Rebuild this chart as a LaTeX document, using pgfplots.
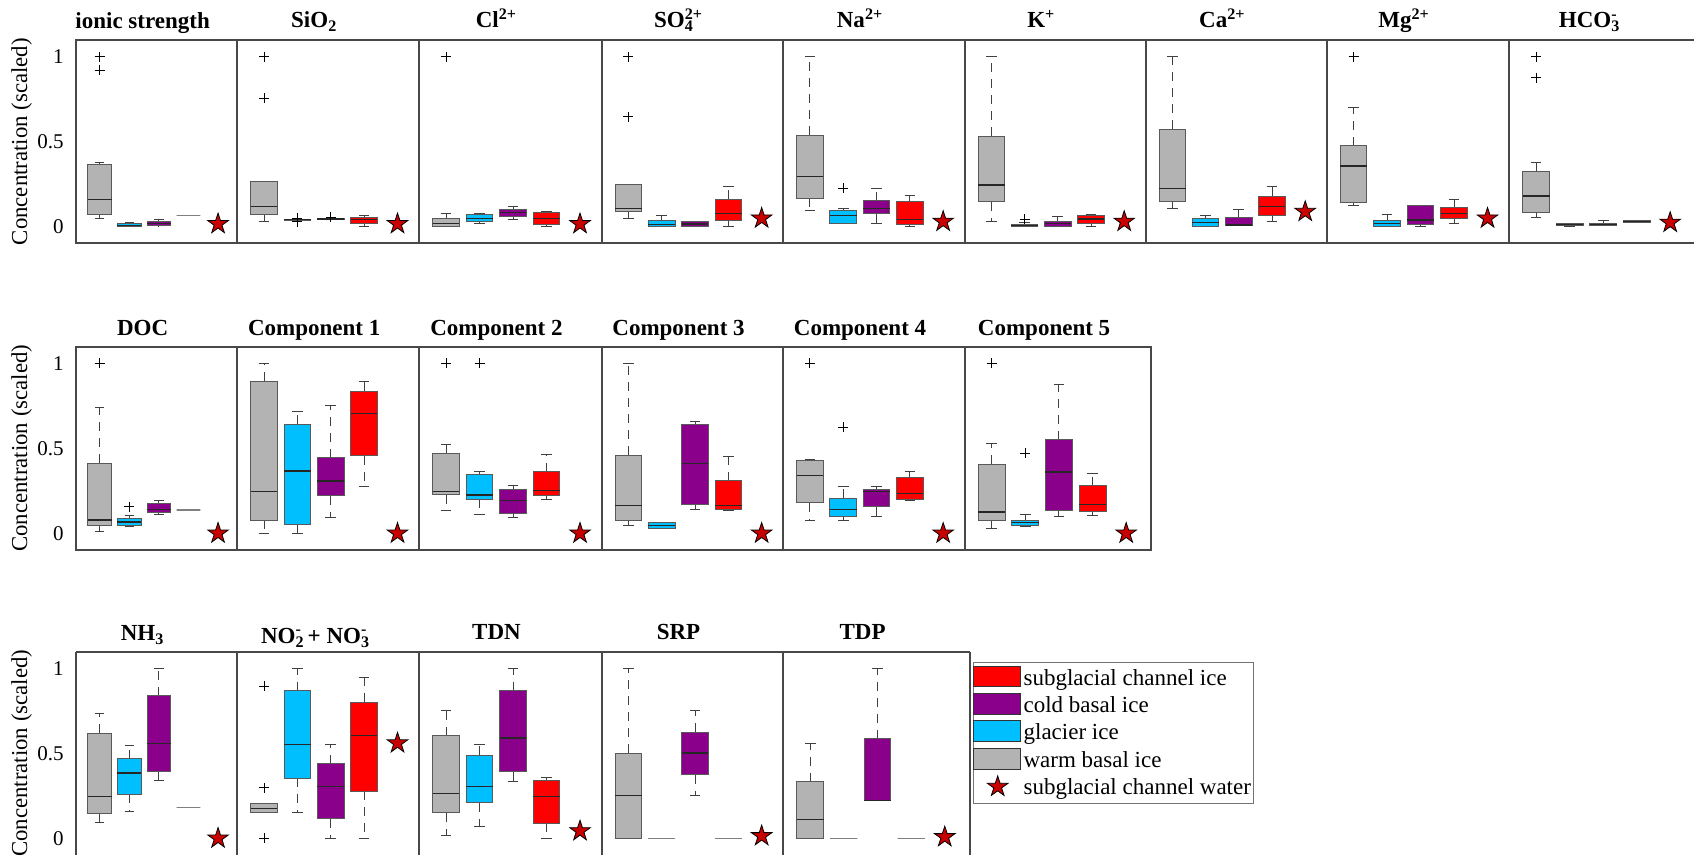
\documentclass[border=0pt]{standalone}
\usepackage{fontspec}
\setmainfont{Liberation Serif}
\usepackage{pgfplots}
\pgfplotsset{compat=1.18}
\usepgfplotslibrary{statistics}
\definecolor{cgray}{RGB}{179,179,179}
\definecolor{cblue}{RGB}{0,191,255}
\definecolor{cpurple}{RGB}{139,0,139}
\definecolor{cred}{RGB}{255,0,0}
\definecolor{cstar}{RGB}{200,0,0}
\definecolor{frame}{RGB}{72,72,72}
\pgfdeclareplotmark{fstar}{%
  \pgfpathmoveto{\pgfpointpolar{90}{\pgfplotmarksize}}%
  \pgfpathlineto{\pgfpointpolar{126}{0.382\pgfplotmarksize}}%
  \pgfpathlineto{\pgfpointpolar{162}{\pgfplotmarksize}}%
  \pgfpathlineto{\pgfpointpolar{198}{0.382\pgfplotmarksize}}%
  \pgfpathlineto{\pgfpointpolar{234}{\pgfplotmarksize}}%
  \pgfpathlineto{\pgfpointpolar{270}{0.382\pgfplotmarksize}}%
  \pgfpathlineto{\pgfpointpolar{306}{\pgfplotmarksize}}%
  \pgfpathlineto{\pgfpointpolar{342}{0.382\pgfplotmarksize}}%
  \pgfpathlineto{\pgfpointpolar{18}{\pgfplotmarksize}}%
  \pgfpathlineto{\pgfpointpolar{54}{0.382\pgfplotmarksize}}%
  \pgfpathclose
  \pgfusepathqfillstroke
}
\pgfplotsset{
  every axis title shift=0pt,
  boxplot/draw direction=y,
  boxplot/draw/lower whisker/.code={%
    \draw[/pgfplots/boxplot/every whisker/.try, dash pattern=on 4.5pt off 3.5pt]
      (boxplot cs:\pgfplotsboxplotvalue{lower quartile}) --
      (boxplot cs:\pgfplotsboxplotvalue{lower whisker});
    \draw[/pgfplots/boxplot/every whisker/.try, solid]
      (boxplot whisker cs:\pgfplotsboxplotvalue{lower whisker},0) --
      (boxplot whisker cs:\pgfplotsboxplotvalue{lower whisker},1);
  },
  boxplot/draw/upper whisker/.code={%
    \draw[/pgfplots/boxplot/every whisker/.try, dash pattern=on 4.5pt off 3.5pt]
      (boxplot cs:\pgfplotsboxplotvalue{upper quartile}) --
      (boxplot cs:\pgfplotsboxplotvalue{upper whisker});
    \draw[/pgfplots/boxplot/every whisker/.try, solid]
      (boxplot whisker cs:\pgfplotsboxplotvalue{upper whisker},0) --
      (boxplot whisker cs:\pgfplotsboxplotvalue{upper whisker},1);
  },
  bp/.style={
    black, mark=+, mark size=2.5pt, mark options={solid, black, line width=0.5pt},
    boxplot/draw direction=y,
    boxplot/box extend=0.8, boxplot/whisker extend=0.32,
    boxplot/every box/.style={draw=black!65, fill=#1, line width=0.5pt},
    boxplot/every median/.style={draw=black!85, line width=0.6pt},
    boxplot/every whisker/.style={draw=black!75, line width=0.5pt},
  },
  panel/.style={
    scale only axis, anchor=north west, height=101.65pt,
    xmin=0.2, xmax=5.65, ymin=-0.098, ymax=1.098,
    xtick=\empty, ytick=\empty,
    axis line style={draw=frame, line width=1pt},
    major tick length=0pt,
    tick label style={font=\fontsize{10.5}{12}\selectfont},
    yticklabel style={xshift=-2.6pt},
    title style={at={(0.5,1)}, anchor=base, xshift=-7pt, inner sep=0pt, font=\bfseries\fontsize{11.5}{13}\selectfont},
    /pgf/number format/assume math mode=true,
    clip=false,
  },
  tb/.style={title style={yshift=#1}},
  first/.style={ytick={0,0.5,1}, ylabel={Concentration (scaled)},
    ylabel style={at={(axis description cs:-0.337,0.5)}, anchor=center, font=\fontsize{11.4}{13}\selectfont}},
  last/.style={xmax=5.75},
  bottomrow/.style={axis x line*=top, axis y line*=box},
}
\newcommand\B[7]{\addplot[forget plot, bp=#2, boxplot prepared={draw position=#1, lower whisker=#3, lower quartile=#4, median=#5, upper quartile=#6, upper whisker=#7}] coordinates {};}
\newcommand\BO[8]{\addplot[forget plot, bp=#2, boxplot prepared={draw position=#1, lower whisker=#3, lower quartile=#4, median=#5, upper quartile=#6, upper whisker=#7}] table[row sep=\\, y index=0] {v\\ #8};}
\newcommand\BL[2]{\addplot[forget plot, bp=white, boxplot/every box/.style={draw=gray, line width=0.7pt}, boxplot/every median/.style={draw=gray, line width=0.7pt}, boxplot/every whisker/.style={draw=none}, boxplot prepared={draw position=#1, lower whisker=#2, lower quartile=#2, median=#2, upper quartile=#2, upper whisker=#2}] coordinates {};}
\newcommand\ST[1]{\addplot[forget plot, only marks, mark=fstar, mark size=5.4pt, mark options={draw=black, fill=cstar, line width=0.4pt}] coordinates {(5,#1)};}
\newcommand\SW[1]{\addlegendimage{legend image code/.code={\draw[fill=#1,draw=black!80,line width=0.5pt] (0pt,-4.2pt) rectangle (23.5pt,6.2pt);}}}
\begin{document}
\begin{tikzpicture}
\useasboundingbox (0,0) rectangle (847pt,-428pt);
% ---------------- Row 1 ----------------
\begin{axis}[panel, first, at={(38pt,-20pt)}, width=80.65pt, title={ionic strength}, tb=5.9pt]
\BO{1}{cgray}{0.045}{0.069}{0.16}{0.367}{0.38}{1\\0.92\\}
\B{2}{cblue}{0}{0.001}{0.008}{0.018}{0.025}
\B{3}{cpurple}{0.005}{0.006}{0.018}{0.03}{0.04}
\BL{4}{0.065}
\ST{0.016}
\end{axis}
\begin{axis}[panel, at={(118.65pt,-20pt)}, width=90.95pt, title={SiO\textsubscript{2}}, tb=6pt]
\BO{1}{cgray}{0.033}{0.069}{0.12}{0.265}{0.265}{1\\0.755\\}
\BO{2}{cblue}{0.038}{0.038}{0.04}{0.042}{0.042}{0.05\\0.03\\}
\BO{3}{cpurple}{0.042}{0.042}{0.045}{0.048}{0.048}{0.055\\}
\B{4}{cred}{0}{0.02}{0.04}{0.055}{0.063}
\ST{0.016}
\end{axis}
\begin{axis}[panel, at={(209.6pt,-20pt)}, width=91.3pt, title={Cl\textsuperscript{2+}}, tb=6pt]
\BO{1}{cgray}{0}{0}{0.02}{0.045}{0.078}{1\\}
\B{2}{cblue}{0.02}{0.03}{0.049}{0.069}{0.075}
\B{3}{cpurple}{0.04}{0.059}{0.084}{0.098}{0.118}
\B{4}{cred}{0}{0.014}{0.049}{0.084}{0.088}
\ST{0.016}
\end{axis}
\begin{axis}[panel, at={(300.9pt,-20pt)}, width=90.75pt, title={SO\rlap{\textsubscript{4}}\textsuperscript{2+}}, tb=6pt]
\BO{1}{cgray}{0.045}{0.088}{0.108}{0.245}{0.245}{1\\0.647\\}
\B{2}{cblue}{0}{0}{0.012}{0.035}{0.065}
\B{3}{cpurple}{0}{0}{0.016}{0.03}{0.033}
\B{4}{cred}{0}{0.035}{0.078}{0.161}{0.239}
\ST{0.049}
\end{axis}
\begin{axis}[panel, at={(391.65pt,-20pt)}, width=90.75pt, title={Na\textsuperscript{2+}}, tb=6pt]
\B{1}{cgray}{0.094}{0.167}{0.294}{0.539}{1}
\BO{2}{cblue}{0.02}{0.02}{0.065}{0.094}{0.108}{0.225\\}
\B{3}{cpurple}{0.02}{0.075}{0.108}{0.153}{0.222}
\B{4}{cred}{0}{0.01}{0.04}{0.147}{0.186}
\ST{0.03}
\end{axis}
\begin{axis}[panel, at={(482.4pt,-20pt)}, width=90.5pt, title={K\textsuperscript{+}}, tb=6pt]
\B{1}{cgray}{0.03}{0.147}{0.245}{0.533}{1}
\BO{2}{cblue}{0}{0}{0.006}{0.014}{0.022}{0.043\\}
\B{3}{cpurple}{0}{0}{0.02}{0.033}{0.059}
\B{4}{cred}{0}{0.016}{0.045}{0.065}{0.073}
\ST{0.03}
\end{axis}
\begin{axis}[panel, at={(572.9pt,-20pt)}, width=90.5pt, title={Ca\textsuperscript{2+}}, tb=6pt]
\B{1}{cgray}{0.104}{0.147}{0.225}{0.573}{1}
\B{2}{cblue}{0}{0}{0.025}{0.045}{0.065}
\B{3}{cpurple}{0.004}{0.004}{0.01}{0.053}{0.098}
\B{4}{cred}{0.033}{0.065}{0.118}{0.18}{0.235}
\ST{0.088}
\end{axis}
\begin{axis}[panel, at={(663.4pt,-20pt)}, width=91.25pt, title={Mg\textsuperscript{2+}}, tb=6pt]
\BO{1}{cgray}{0.124}{0.143}{0.357}{0.475}{0.7}{1\\}
\B{2}{cblue}{0}{0}{0.02}{0.039}{0.069}
\B{3}{cpurple}{0}{0.01}{0.039}{0.122}{0.122}
\B{4}{cred}{0.02}{0.045}{0.075}{0.114}{0.161}
\ST{0.049}
\end{axis}
\begin{axis}[panel, last, at={(754.65pt,-20pt)}, width=93pt, title={HCO\rlap{\textsubscript{3}}\textsuperscript{-}}, tb=6pt]
\BO{1}{cgray}{0.053}{0.084}{0.18}{0.322}{0.378}{1\\0.876\\}
\B{2}{cblue}{0.002}{0.004}{0.012}{0.02}{0.02}
\B{3}{cpurple}{0.004}{0.004}{0.012}{0.02}{0.039}
\B{4}{cred}{0.024}{0.024}{0.031}{0.039}{0.039}
\ST{0.024}
\end{axis}
% ---------------- Row 2 ----------------
\begin{axis}[panel, first, at={(38pt,-173.35pt)}, width=80.65pt, title={DOC}, tb=5.8pt]
\BO{1}{cgray}{0.008}{0.047}{0.079}{0.413}{0.74}{1\\}
\BO{2}{cblue}{0.039}{0.047}{0.067}{0.086}{0.106}{0.157\\}
\B{3}{cpurple}{0.108}{0.122}{0.141}{0.177}{0.196}
\BL{4}{0.138}
\ST{0}
\end{axis}
\begin{axis}[panel, at={(118.65pt,-173.35pt)}, width=90.95pt, title={Component 1}, tb=5.8pt]
\B{1}{cgray}{0}{0.077}{0.246}{0.894}{1}
\B{2}{cblue}{0}{0.053}{0.367}{0.642}{0.717}
\B{3}{cpurple}{0.096}{0.22}{0.308}{0.446}{0.754}
\B{4}{cred}{0.273}{0.456}{0.707}{0.835}{0.894}
\ST{0}
\end{axis}
\begin{axis}[panel, at={(209.6pt,-173.35pt)}, width=91.3pt, title={Component 2}, tb=5.8pt]
\BO{1}{cgray}{0.136}{0.226}{0.246}{0.472}{0.525}{1\\}
\BO{2}{cblue}{0.112}{0.2}{0.226}{0.348}{0.361}{1\\}
\B{3}{cpurple}{0.092}{0.118}{0.194}{0.259}{0.279}
\B{4}{cred}{0.2}{0.22}{0.253}{0.361}{0.466}
\ST{0}
\end{axis}
\begin{axis}[panel, at={(300.9pt,-173.35pt)}, width=90.75pt, title={Component 3}, tb=5.8pt]
\B{1}{cgray}{0.047}{0.077}{0.165}{0.46}{1}
\B{2}{cblue}{0.029}{0.029}{0.047}{0.063}{0.063}
\B{3}{cpurple}{0.138}{0.171}{0.413}{0.639}{0.658}
\B{4}{cred}{0.132}{0.141}{0.165}{0.308}{0.452}
\ST{0}
\end{axis}
\begin{axis}[panel, at={(391.65pt,-173.35pt)}, width=90.75pt, title={Component 4}, tb=5.8pt]
\BO{1}{cgray}{0.073}{0.181}{0.338}{0.426}{0.432}{1\\}
\BO{2}{cblue}{0.073}{0.102}{0.138}{0.206}{0.273}{0.623\\}
\B{3}{cpurple}{0.098}{0.155}{0.246}{0.259}{0.273}
\B{4}{cred}{0.195}{0.2}{0.236}{0.328}{0.361}
\ST{0}
\end{axis}
\begin{axis}[panel, last, at={(482.4pt,-173.35pt)}, width=93.3pt, title={Component 5}, tb=5.8pt]
\BO{1}{cgray}{0.028}{0.077}{0.126}{0.407}{0.528}{1\\}
\BO{2}{cblue}{0.039}{0.049}{0.063}{0.077}{0.112}{0.47\\}
\B{3}{cpurple}{0.098}{0.136}{0.361}{0.55}{0.878}
\B{4}{cred}{0.106}{0.126}{0.171}{0.279}{0.354}
\ST{0}
\end{axis}
% ---------------- Row 3 ----------------
\begin{axis}[panel, first, bottomrow, at={(38pt,-325.85pt)}, width=80.65pt, title={NH\textsubscript{3}}, tb=5.5pt]
\B{1}{cgray}{0.092}{0.145}{0.244}{0.619}{0.736}
\B{2}{cblue}{0.16}{0.258}{0.385}{0.469}{0.545}
\B{3}{cpurple}{0.342}{0.391}{0.557}{0.838}{1}
\BL{4}{0.18}
\ST{0}
\end{axis}
\begin{axis}[panel, bottomrow, at={(118.65pt,-325.85pt)}, width=90.95pt, title={NO\rlap{\textsubscript{2}}\textsuperscript{-} + NO\rlap{\textsubscript{3}}\textsuperscript{-}}, tb=4.1pt]
\BO{1}{cgray}{0.15}{0.15}{0.174}{0.203}{0.203}{0.896\\0.297\\0\\}
\B{2}{cblue}{0.15}{0.355}{0.551}{0.869}{1}
\B{3}{cpurple}{0}{0.115}{0.303}{0.4375}{0.551}
\B{4}{cred}{0}{0.277}{0.604}{0.80}{0.947}
\ST{0.56}
\end{axis}
\begin{axis}[panel, bottomrow, at={(209.6pt,-325.85pt)}, width=91.3pt, title={TDN}, tb=6pt]
\B{1}{cgray}{0.014}{0.15}{0.264}{0.604}{0.752}
\B{2}{cblue}{0.072}{0.209}{0.303}{0.488}{0.551}
\B{3}{cpurple}{0.332}{0.391}{0.59}{0.867}{1}
\B{4}{cred}{0}{0.088}{0.244}{0.34}{0.359}
\ST{0.043}
\end{axis}
\begin{axis}[panel, bottomrow, at={(300.9pt,-325.85pt)}, width=90.75pt, title={SRP}, tb=6pt]
\B{1}{cgray}{0}{0}{0.254}{0.502}{1}
\BL{2}{0}
\B{3}{cpurple}{0.254}{0.375}{0.502}{0.623}{0.752}
\BL{4}{0}
\ST{0.014}
\end{axis}
\begin{axis}[panel, last, bottomrow, at={(391.65pt,-325.85pt)}, width=93.35pt, title={TDP}, tb=6pt,
  legend style={at={(1.0145,0.948)}, anchor=north west, draw=black!55, line width=0.5pt, fill=white,
    inner xsep=0pt, inner ysep=1pt, font=\fontsize{11.5}{13}\selectfont, row sep=0pt,
    nodes={inner xsep=1.2pt, inner ysep=0.2pt, text height=10pt, text depth=3.3pt}},
  legend cell align=left]
\SW{cred}
\addlegendentry{subglacial channel ice}
\SW{cpurple}
\addlegendentry{cold basal ice}
\SW{cblue}
\addlegendentry{glacier ice}
\SW{cgray}
\addlegendentry{warm basal ice}
\addlegendimage{legend image code/.code={\path[draw=none,fill=none] (0pt,-4.2pt) rectangle (23.5pt,6.2pt); \draw[only marks, mark=fstar, mark size=5.4pt, mark options={draw=black, fill=cstar, line width=0.4pt}] plot coordinates {(12pt,0.7pt)};}}
\addlegendentry{subglacial channel water}
\B{1}{cgray}{0}{0}{0.112}{0.333}{0.557}
\BL{2}{0}
\B{3}{cpurple}{0.224}{0.224}{0.224}{0.586}{1}
\BL{4}{0}
\ST{0.008}
\end{axis}
\end{tikzpicture}
\end{document}
